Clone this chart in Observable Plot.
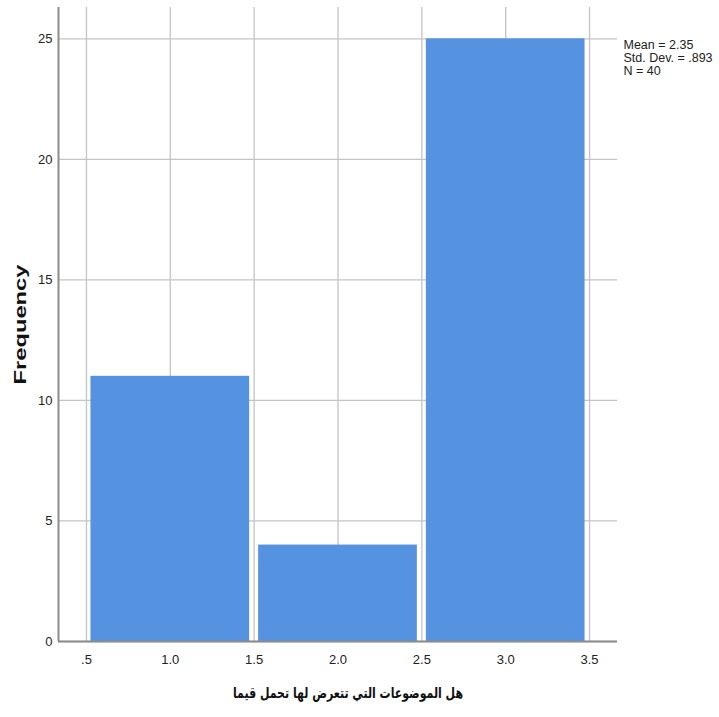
<!DOCTYPE html>
<html>
<head>
<meta charset="utf-8">
<script src="https://cdn.jsdelivr.net/npm/d3@7"></script>
<script src="https://cdn.jsdelivr.net/npm/@observablehq/plot@0.6"></script>
<style>
  html, body { margin: 0; padding: 0; background: #fff; }
  #chart svg { display: block; }
</style>
</head>
<body>
<div id="chart"></div>
<script>
// Histogram bins and frequencies
const binStart = [0.5, 1.5, 2.5];
const binEnd = [1.5, 2.5, 3.5];
const frequency = [11, 4, 25];
const xTicks = [0.5, 1.0, 1.5, 2.0, 2.5, 3.0, 3.5];
const xTickLabels = [".5", "1.0", "1.5", "2.0", "2.5", "3.0", "3.5"];
const yTicks = [0, 5, 10, 15, 20, 25];
const statsLines = ["Mean = 2.35", "Std. Dev. = .893", "N = 40"];
const xTitle = "هل الموضوعات التي تتعرض لها تحمل قيما";
const yTitle = "Frequency";

const bins = binStart.map((s, i) => ({x1: s, x2: binEnd[i], y: frequency[i]}));
const xDomain = [1/3, 11/3];
const narrow = "'Liberation Sans Narrow', 'Arial Narrow', 'Liberation Sans', Arial, sans-serif";

const svg = Plot.plot({
  width: 719,
  height: 717,
  marginLeft: 58,
  marginRight: 102,
  marginTop: 7,
  marginBottom: 76,
  style: {fontFamily: narrow, fontSize: "13px", color: "#222", background: "#fff"},
  x: {domain: xDomain, label: null},
  y: {domain: [0, 26.3], label: null},
  marks: [
    Plot.gridX(xTicks, {stroke: "#c4c4c4", strokeOpacity: 1, strokeWidth: 1.3}),
    Plot.gridY(yTicks, {stroke: "#c4c4c4", strokeOpacity: 1, strokeWidth: 1.3}),
    Plot.rectY(bins, {x1: "x1", x2: "x2", y: "y", fill: "#5593e0", insetLeft: 4.5, insetRight: 4.5}),
    Plot.ruleX([xDomain[0]], {stroke: "#8c8c8c", strokeWidth: 2}),
    Plot.ruleY([0], {stroke: "#8c8c8c", strokeWidth: 2}),
    Plot.axisX(xTicks, {tickSize: 0, tickPadding: 13, tickFormat: (d, i) => xTickLabels[i], fontSize: 13, label: null}),
    Plot.axisY(yTicks, {tickSize: 0, tickPadding: 6, fontSize: 13, label: null}),
    Plot.text([statsLines.join("\n")], {frameAnchor: "top-right", textAnchor: "start", dx: 6, dy: 50, lineHeight: 1.05, fontSize: 12.5, fill: "#222", lineAnchor: "middle"}),
    Plot.text([yTitle], {frameAnchor: "left", dx: -38, dy: 60, rotate: -90, textAnchor: "start", fontWeight: "bold", fontSize: 17, fill: "#111", fontFamily: "Arial, 'Liberation Sans', sans-serif"}),
    Plot.text([xTitle], {frameAnchor: "bottom", dx: 10, dy: 56, fontWeight: "bold", fontSize: 15, fill: "#111", fontFamily: "'DejaVu Sans', 'Noto Sans', sans-serif"})
  ]
});

// Stretch titles to the reference's lengths
d3.select(svg).selectAll("text").each(function() {
  const t = this.textContent;
  if (t === yTitle) d3.select(this).attr("textLength", 120).attr("lengthAdjust", "spacingAndGlyphs");
  if (t === xTitle) d3.select(this).attr("textLength", 230).attr("lengthAdjust", "spacingAndGlyphs");
});

document.getElementById("chart").appendChild(svg);
</script>
</body>
</html>
